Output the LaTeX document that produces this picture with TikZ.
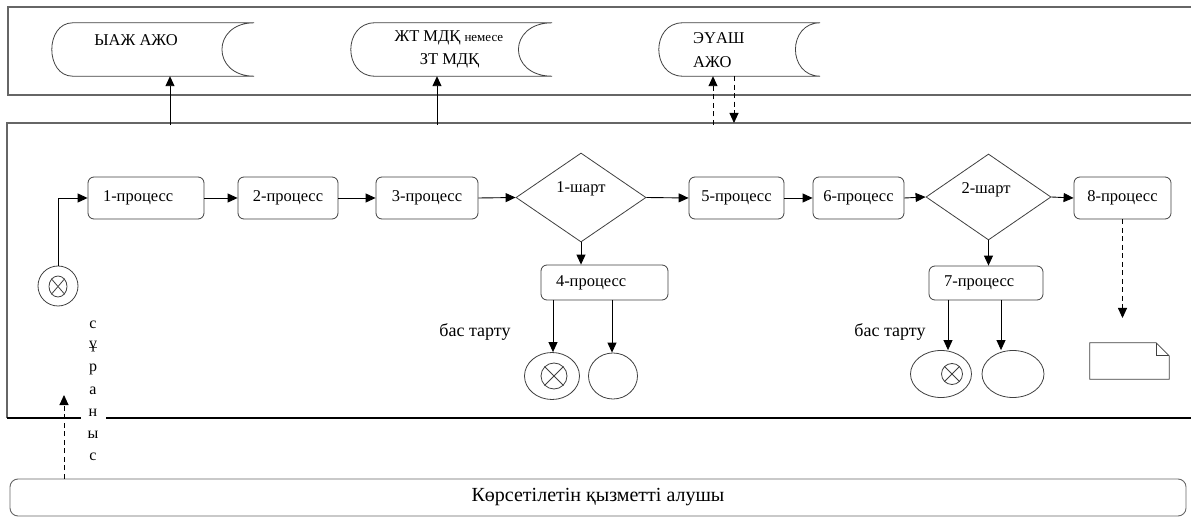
\documentclass[tikz,border=0pt]{standalone}
\usepackage{fontspec}
\setmainfont{Liberation Serif}
\usetikzlibrary{arrows.meta,shapes.geometric,calc}
\begin{document}
\begin{tikzpicture}[x=1bp,y=-1bp,
  every node/.style={font=\fontsize{16.5bp}{20bp}\selectfont, inner sep=0pt, text=black},
  lane/.style={draw=black!60, line width=1.4bp},
  shp/.style={draw=black!75, line width=0.8bp},
  proc/.style={shp, rounded corners=6bp, fill=white, minimum height=42bp},
  procl/.style={proc, align=left, inner xsep=15bp},
  dia/.style={shp, diamond, fill=white},
  arr/.style={line width=0.9bp, -{Triangle[length=10bp,width=9bp]}},
  darr/.style={arr, dash pattern=on 5bp off 3.5bp},
  vtxt/.style={font=\fontsize{16bp}{18bp}\selectfont},
  reftxt/.style={font=\fontsize{18bp}{20bp}\selectfont}
]
\useasboundingbox (0,0) rectangle (1191,517);
\clip (0,0) rectangle (1191,517);

% lanes
\draw[lane] (1200,7) -- (8,7) -- (8,95) -- (1200,95);
\draw[lane] (1200,123) -- (7,123) -- (7,418);
\draw[line width=1.3bp, black] (7,418) -- (1200,418);

% storage shapes
\node[minimum width=202bp, minimum height=53bp] (s1) at (153,49.5) {};
\draw[shp] ($(s1.north west)+(21,0)$) -- (s1.north east) .. controls +(-43,0) and +(-43,0) .. (s1.south east) -- ($(s1.south west)+(21,0)$) .. controls +(-28,0) and +(-28,0) .. ($(s1.north west)+(21,0)$);
\node (s1t) at (136,40) {ЫАЖ АЖО};

\node[minimum width=201bp, minimum height=53bp] (s2) at (451.5,49.5) {};
\draw[shp] ($(s2.north west)+(24,0)$) -- (s2.north east) .. controls +(-45,0) and +(-45,0) .. (s2.south east) -- ($(s2.south west)+(24,0)$) .. controls +(-32,0) and +(-32,0) .. ($(s2.north west)+(24,0)$);
\node (s2t) at (449,38) {ЖТ МДҚ {\fontsize{13bp}{15bp}\selectfont немесе}};
\node (s2b) at (449.5,61) {ЗТ МДҚ};

\node[minimum width=161bp, minimum height=53bp] (s3) at (739.5,49.5) {};
\draw[shp] ($(s3.north west)+(24,0)$) -- (s3.north east) .. controls +(-33,0) and +(-33,0) .. (s3.south east) -- ($(s3.south west)+(24,0)$) .. controls +(-32,0) and +(-32,0) .. ($(s3.north west)+(24,0)$);
\node[anchor=west] (s3t) at (693,38) {ЭҮАШ};
\node[anchor=west] (s3b) at (693,62) {АЖО};

% arrows between lanes
\coordinate (a1) at (170,125);
\coordinate (a2) at (437,125);
\coordinate (a3) at (713,125);
\coordinate (a4) at (734,123);
\draw[arr] (a1) -- (a1 |- s1.south);
\draw[arr] (a2) -- (a2 |- s2.south);
\draw[darr] (a3) -- (a3 |- s3.south);
\draw[darr] (a4 |- s3.south) -- (a4);

% start event
\node[shp, circle, minimum size=40bp] (s0) at (58,286) {};
\node[shp, ellipse, minimum width=18bp, minimum height=21bp] (s0i) at (58,286.5) {};
\draw[shp] (s0i.north east) -- (s0i.south west) (s0i.north west) -- (s0i.south east);

% processes
\node[procl, text width=86bp] (p1) at (146,198) {1-процесс};
\node[proc, minimum width=100bp] (p2) at (288,198) {2-процесс};
\node[proc, minimum width=102bp] (p3) at (427,198) {3-процесс};
\node[dia, minimum width=130bp, minimum height=89bp] (d1) at (581,197.5) {};
\node (d1t) at (581,189) {1-шарт};
\node[proc, minimum width=95bp] (p5) at (736.5,198) {5-процесс};
\node[proc, minimum width=91bp] (p6) at (858.5,198) {6-процесс};
\node[dia, minimum width=125bp, minimum height=86bp] (d2) at (988.5,197) {};
\node (d2t) at (986,190) {2-шарт};
\node[proc, minimum width=97bp] (p8) at (1122.5,198) {8-процесс};

\node[procl, text width=97bp, minimum height=35bp] (p4) at (604.5,282.5) {4-процесс};
\node[procl, text width=84bp, minimum height=34bp] (p7) at (986,283) {7-процесс};

% end events
\node[shp, ellipse, minimum width=55bp, minimum height=47bp] (e1) at (552,376) {};
\node[shp, circle, minimum size=26bp] (e1i) at (554,376) {};
\draw[shp] (e1i.north east) -- (e1i.south west) (e1i.north west) -- (e1i.south east);
\node[shp, ellipse, minimum width=49bp, minimum height=46bp] (e2) at (613,376) {};

\node[shp, ellipse, minimum width=61bp, minimum height=47bp] (e3) at (941,374) {};
\node[shp, circle, minimum size=21bp] (e3i) at (952,374) {};
\draw[shp] (e3i.north east) -- (e3i.south west) (e3i.north west) -- (e3i.south east);
\node[shp, ellipse, minimum width=62bp, minimum height=47bp] (e4) at (1013,374) {};

% document
\node[minimum width=79bp, minimum height=36bp] (doc) at (1129.5,361) {};
\draw[shp] (doc.north west) -- ($(doc.north east)+(-13,0)$) -- ($(doc.north east)+(0,13)$) -- (doc.south east) -- (doc.south west) -- cycle;
\draw[shp] ($(doc.north east)+(-13,0)$) -- ($(doc.north east)+(-13,13)$) -- ($(doc.north east)+(0,13)$);

% labels
\node[reftxt] (r1) at (475,332) {бас тарту};
\node[reftxt] (r2) at (890,332) {бас тарту};

% flow arrows
\draw[arr] (s0.north) |- (p1.west);
\draw[arr] (p1.east) -- (p2.west);
\draw[arr] (p2.east) -- (p3.west);
\draw[arr] (p3.east) -- (d1.west);
\draw[arr] (d1.east) -- (p5.west);
\draw[arr] (p5.east) -- (p6.west);
\draw[arr] (p6.east) -- (d2.west);
\draw[arr] (d2.east) -- (p8.west);
\draw[arr] (d1.south) -- (d1.south |- p4.north);
\draw[arr] (d2.south) -- (d2.south |- p7.north);
\coordinate (q1) at (553,300);
\coordinate (q2) at (612,300);
\coordinate (q3) at (948,300);
\coordinate (q4) at (1001,300);
\draw[arr] (q1) -- (q1 |- e1.north);
\draw[arr] (q2) -- (q2 |- e2.north);
\draw[arr] (q3) -- (q3 |- e3.north);
\draw[arr] (q4) -- (q4 |- e4.north);
\coordinate (docend) at (1122.5,318);
\draw[darr] (p8.south) -- (docend);

% client lane
\node[draw=black!60, line width=0.9bp, rounded corners=8bp, minimum width=1176bp, minimum height=37bp, font=\fontsize{20bp}{24bp}\selectfont] (client) at (598,497.5) {Көрсетілетін қызметті алушы};
\coordinate (req) at (64,395);
\draw[darr] (client.north -| req) -- (req);

% vertical label
\foreach \ch [count=\i] in {с,ұ,р,а,н,ы,с} {
  \node[vtxt, fill=white, minimum width=25bp, minimum height=22bp] (v\i) at (93,{325+22*(\i-1)}) {\ch};
}
\end{tikzpicture}
\end{document}
